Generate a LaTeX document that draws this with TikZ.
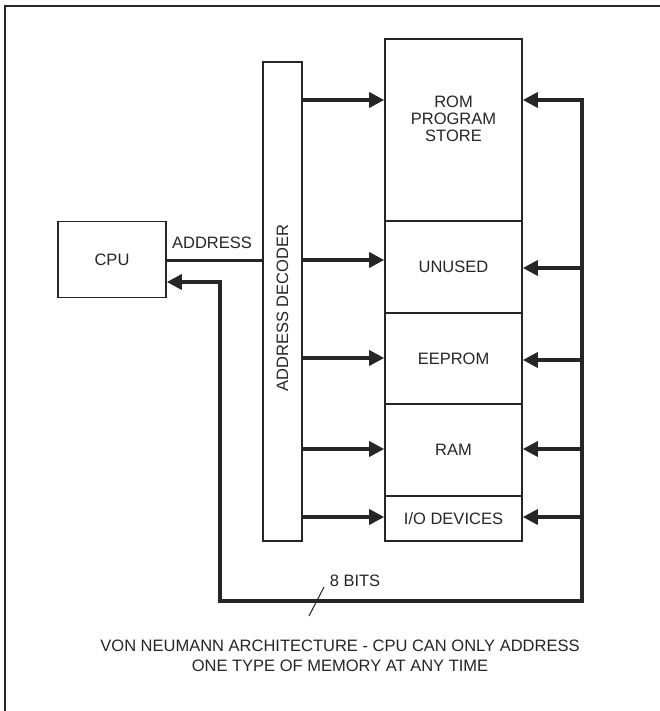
\documentclass[tikz,border=0pt]{standalone}
\usepackage{fontspec}
\setmainfont{Liberation Sans}
\usetikzlibrary{arrows.meta}
\definecolor{inkc}{HTML}{262626}
\begin{document}
\begin{tikzpicture}[x=1pt,y=-1pt,
  box/.style={draw=inkc, line width=1.6pt, inner sep=0pt, font=\fontsize{16.5}{17}\selectfont, text=inkc},
  bus/.style={draw=inkc, line width=3.4pt, line join=miter},
  thin/.style={draw=inkc, line width=3pt},
  arr/.style={-{Triangle[length=15pt,width=15pt]}},
  lbl/.style={font=\fontsize{16.5}{17}\selectfont, text=inkc, inner sep=0pt, align=center}]
\useasboundingbox (0,0) rectangle (660,711);
\fill[white] (0,0) rectangle (660,711);
% frame
\coordinate (f1) at (5,711); \coordinate (f2) at (5,6); \coordinate (f3) at (660,6);
\draw[draw=inkc, line width=1.6pt] (f1) -- (f2) -- (f3);
% boxes
\node[box, minimum width=108pt, minimum height=76pt] (cpu) at (112,259.5) {CPU};
\node[box, minimum width=39pt, minimum height=479pt] (dec) at (282.5,301.5) {};
\node[lbl, rotate=90] (dectext) at (282.5,308) {ADDRESS DECODER};
\node[box, minimum width=137pt, minimum height=182pt] (rom) at (453.5,130) {};
\node[lbl, text depth=0pt] (romtext) at (453.5,119) {ROM\\PROGRAM\\STORE};
\node[box, minimum width=137pt, minimum height=92pt] (unused) at (453.5,267) {UNUSED};
\node[box, minimum width=137pt, minimum height=91pt] (eeprom) at (453.5,358.5) {EEPROM};
\node[box, minimum width=137pt, minimum height=92pt] (ram) at (453.5,450) {RAM};
\node[box, minimum width=137pt, minimum height=45pt] (io) at (453.5,518.5) {I/O DEVICES};
% address line
\coordinate (a1) at (166,260);
\draw[thin] (cpu.east |- a1) -- (dec.west |- a1);
\node[lbl] (addr) at (212,243) {ADDRESS};
% decoder outputs
\coordinate (m1) at (385,100);
\coordinate (m2) at (385,260);
\coordinate (m3) at (385,358);
\coordinate (m4) at (385,449);
\coordinate (m5) at (385,517);
\draw[bus,arr] (dec.east |- m1) -- (rom.west |- m1);
\draw[bus,arr] (dec.east |- m2) -- (unused.west |- m2);
\draw[bus,arr] (dec.east |- m3) -- (eeprom.west |- m3);
\draw[bus,arr] (dec.east |- m4) -- (ram.west |- m4);
\draw[bus,arr] (dec.east |- m5) -- (io.west |- m5);
% data bus
\coordinate (tr) at (582,100);
\coordinate (br) at (582,601);
\coordinate (bl) at (220,601);
\coordinate (cr) at (220,282);
\draw[bus, {Triangle[length=15pt,width=15pt]}-{Triangle[length=15pt,width=15pt]}]
  (rom.east |- tr) -- (tr) -- (br) -- (bl) -- (cr) -- (cpu.east |- cr);
\coordinate (r2) at (582,268);
\coordinate (r3) at (582,360);
\coordinate (r4) at (582,449);
\coordinate (r5) at (582,517);
\draw[bus,arr] (r2) -- (unused.east |- r2);
\draw[bus,arr] (r3) -- (eeprom.east |- r3);
\draw[bus,arr] (r4) -- (ram.east |- r4);
\draw[bus,arr] (r5) -- (io.east |- r5);
% 8 bits
\coordinate (s1) at (309,616); \coordinate (s2) at (324,587);
\draw[draw=inkc, line width=1pt] (s1) -- (s2);
\node[lbl] (bits) at (355,581) {8 BITS};
% caption
\node[lbl, font=\fontsize{16.5}{20}\selectfont] (cap) at (340,656)
  {VON NEUMANN ARCHITECTURE - CPU CAN ONLY ADDRESS\\ONE TYPE OF MEMORY AT ANY TIME};
\end{tikzpicture}
\end{document}
